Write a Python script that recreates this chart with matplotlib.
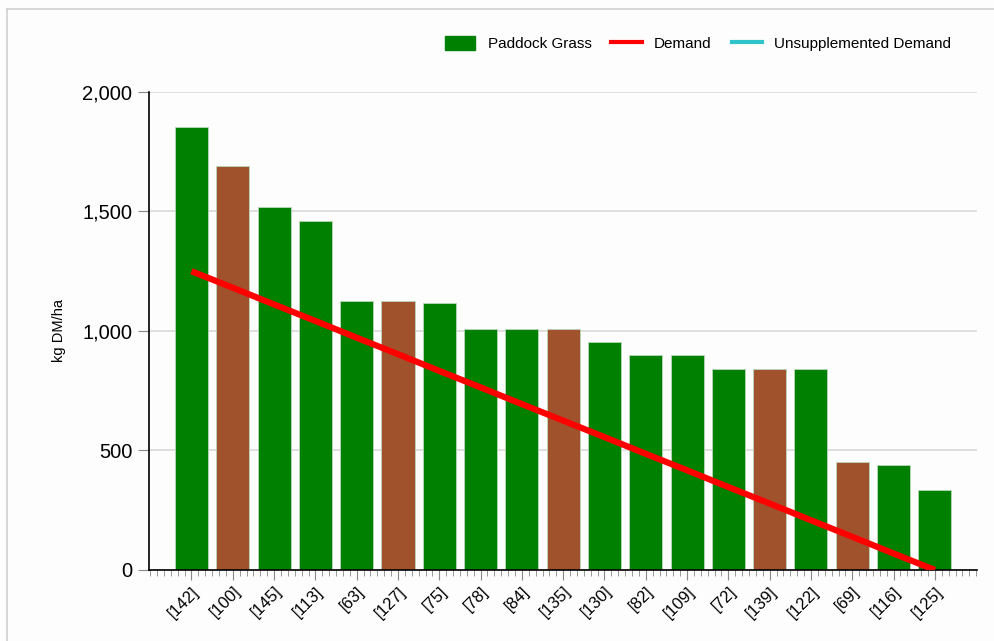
import matplotlib.pyplot as plt
from matplotlib.lines import Line2D
from matplotlib.ticker import FuncFormatter, AutoMinorLocator, FixedLocator

plt.rcParams['font.family'] = ['Liberation Sans', 'DejaVu Sans']

paddocks = ["[142]", "[100]", "[145]", "[113]", "[63]", "[127]", "[75]", "[78]", "[84]", "[135]",
            "[130]", "[82]", "[109]", "[72]", "[139]", "[122]", "[69]", "[116]", "[125]"]
grass = [1855, 1690, 1520, 1460, 1125, 1125, 1115, 1010, 1010, 1010,
         955, 900, 900, 843, 843, 843, 450, 440, 335]
flagged = [0, 1, 0, 0, 0, 1, 0, 0, 0, 1, 0, 0, 0, 0, 1, 0, 1, 0, 0]
demand = [1250, 1181, 1111, 1042, 972, 903, 833, 764, 694, 625,
          556, 486, 417, 347, 278, 208, 139, 69, 0]
unsupplemented = []

fig = plt.figure(figsize=(9.95, 6.41), dpi=100)
fig.patch.set_facecolor("#fdfdfd")
ax = fig.add_axes([0.1497, 0.1108, 0.8322, 0.7457])
ax.set_facecolor("#fdfdfd")

x = list(range(len(paddocks)))
colors = ["#a0522d" if f else "#008000" for f in flagged]
ax.bar(x, grass, width=0.8, color=colors, edgecolor="#b8d8b8", linewidth=0.6, zorder=2)
ax.plot(x, demand, color="#ff0000", lw=4.5, solid_capstyle="butt", zorder=3)
ax.plot(x[:len(unsupplemented)], unsupplemented, color="#2ec4c9", lw=3)

ax.set_xlim(-1.03, 19.02)
ax.set_ylim(0, 2000)
ax.set_yticks([0, 500, 1000, 1500, 2000])
ax.yaxis.set_major_formatter(FuncFormatter(lambda v, p: f"{int(v):,}"))
ax.grid(axis="y", color="#d9d9d9", lw=1.2, zorder=0)
ax.set_axisbelow(True)

ax.xaxis.set_major_locator(FixedLocator(x))
ax.set_xticklabels(paddocks, rotation=45, ha="right", rotation_mode="anchor", fontsize=12)
ax.xaxis.set_minor_locator(AutoMinorLocator(6))
ax.tick_params(axis="x", which="major", length=7, color="#888888", pad=3)
ax.tick_params(axis="x", which="minor", length=4, color="#888888")
ax.tick_params(axis="y", length=8, color="#888888", labelsize=14.5, pad=4)

for s in ["top", "right"]:
    ax.spines[s].set_visible(False)
ax.spines["left"].set_color("black")
ax.spines["bottom"].set_color("black")
ax.spines["left"].set_linewidth(1.2)
ax.spines["bottom"].set_linewidth(1.2)

ax.set_ylabel("kg DM/ha", fontsize=10.5, labelpad=12)

handles = [plt.Rectangle((0, 0), 1, 1, color="#008000"),
           Line2D([], [], color="#ff0000", lw=3),
           Line2D([], [], color="#2ec4c9", lw=3)]
fig.legend(handles, ["Paddock Grass", "Demand", "Unsupplemented Demand"], ncol=3,
           loc="center right", bbox_to_anchor=(0.97, 0.932), frameon=False, fontsize=11,
           handlelength=2.0, handleheight=1.0, columnspacing=1.3, handletextpad=0.8)

fig.add_artist(Line2D([0.007, 0.007], [0, 0.986], color="#d0d0d0", lw=1.2, transform=fig.transFigure))
fig.add_artist(Line2D([0.007, 1.0], [0.986, 0.986], color="#d0d0d0", lw=1.2, transform=fig.transFigure))

fig.savefig("out.png", dpi=100, facecolor=fig.get_facecolor())
